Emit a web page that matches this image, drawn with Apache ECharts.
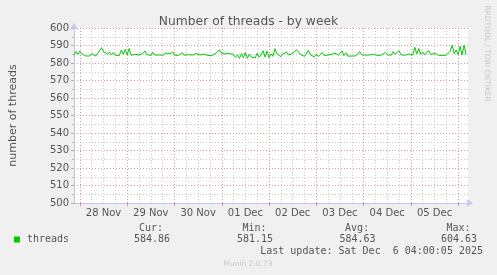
<!DOCTYPE html>
<html>
<head>
<meta charset="utf-8">
<script src="https://cdn.jsdelivr.net/npm/echarts@6/dist/echarts.min.js"></script>
<style>
html,body{margin:0;padding:0;background:#f0f0f0;}
#c{width:497px;height:275px;}
</style>
</head>
<body>
<div id="c"></div>
<script>
// ---- data ----
const startHour = 21; // hours since 27 Nov 00:00, one sample per hour
const threads = [
584.5,586.5,585,586.8,585.2,
584.2,584,584.1,584,585.3,584.2,584,585.5,584.6,
588.8,586.5,587.2,
585,586.3,584.7,586,584.5,585.6,584.3,
587.3,585,587.8,584.6,588.3,
584.4,584.3,585,584.2,584.6,584.4,585.5,
586.9,584.8,585.8,584.3,586.2,
584.5,584.3,584.6,585.5,584.4,584.2,585.7,
586.7,585.2,586.4,584.6,585.2,584.3,
584.2,585.9,584.4,584.1,584.8,584.3,584.5,
584.2,585.4,584.3,584.6,584.2,585.1,
584.5,584.3,584.8,584.2,584.4,585.6,584.6,587.5,585.4,
586,585.2,584.8,585.5,584.6,584.8,583.2,
584.7,582.6,585.3,583,586.2,582.7,585,583.4,584.4,582.9,585.6,583.2,584.6,587,583.4,586.8,583.1,585.2,583.8,588.2,585.4,584.5,583.6,585.2,
584.3,586.2,584.6,584.2,585.5,584.8,587.6,586.2,584.8,584.4,583.8,584.6,587.2,584.7,
584.2,583.5,585,583.7,584.6,586,584.2,583.8,584.6,584.1,585,584.5,585.6,584.3,585.2,
587,584.2,585.8,583.9,584.4,584,584,584,584.1,586.5,584.7,585.6,584.5,584.3,584.6,584.3,585,584.4,584.3,585.3,584.5,584.3,586,584.8,585.6,584.4,586.5,585,584.5,587,584.7,585.3,
584.4,584.3,585.1,584.3,584.6,589,585.2,588.3,585,586.3,584.6,585.2,587.2,584.9,584.3,585.6,584.6,584.4,585.1,584.3,585.4,584.5,584.4,586.8,590.3,585.3,587.4,584.8,589.5,584.6,590.2,584.9
];
const dayLabels = ['28 Nov','29 Nov','30 Nov','01 Dec','02 Dec','03 Dec','04 Dec','05 Dec'];
const firstDayHour = 24;   // 28 Nov 00:00
const statNames = ['Cur:','Min:','Avg:','Max:'];
const statValues = ['584.86','581.15','584.63','604.63'];
const seriesName = 'threads';
const lastUpdate = 'Last update: Sat Dec  6 04:00:05 2025';

// ---- derived axis positions ----
const dayStarts = [], dayNoons = [], sixHours = [];
for (let d = 0; d <= dayLabels.length; d++) dayStarts.push(firstDayHour + 24*d);
for (let d = 0; d < dayLabels.length; d++) dayNoons.push(firstDayHour + 12 + 24*d);
for (let h = firstDayHour; h <= 221; h += 6) if ((h - firstDayHour) % 24 !== 0) sixHours.push(h);
const pts = threads.map((v,i)=>[startHour+i, v]);

const red = 'rgba(225,110,110,0.75)';
const grey = 'rgba(150,150,150,0.5)';
const txt = '#555';

const chart = echarts.init(document.getElementById('c'), null, {renderer:'canvas'});
chart.setOption({
  backgroundColor:'#f0f0f0',
  animation:false,
  title:{text:'Number of threads - by week', left:'center', top:11,
    textStyle:{fontFamily:'DejaVu Sans', fontSize:12.3, fontWeight:'normal', color:txt}},
  grid:{left:67, right:29, top:28, bottom:72, show:true, backgroundColor:'#ffffff', borderWidth:0},
  xAxis:{type:'value', min:21, max:221,
    axisLine:{show:true, lineStyle:{color:'#c4c4f0', width:1}, symbol:['none','arrow'], symbolSize:[6,7], symbolOffset:[0,5]},
    axisTick:{show:true, customValues:dayStarts, length:3, lineStyle:{color:red}},
    axisLabel:{customValues:dayNoons, margin:5, fontFamily:'DejaVu Sans', fontSize:10, color:txt,
      formatter:v=>dayLabels[Math.round((v-firstDayHour-12)/24)]},
    splitLine:{show:false}},
  yAxis:{type:'value', min:500, max:600, interval:10,
    name:'number of threads', nameLocation:'middle', nameGap:55,
    nameTextStyle:{fontFamily:'DejaVu Sans', fontSize:11, color:txt},
    axisLine:{show:true, lineStyle:{color:'#c4c4f0', width:1}, symbol:['none','arrow'], symbolSize:[6,7], symbolOffset:[0,5]},
    axisTick:{show:true, length:3, lineStyle:{color:'#aaa'}},
    minorTick:{show:true, splitNumber:2, length:2, lineStyle:{color:'#bbb'}},
    axisLabel:{margin:5, fontFamily:'DejaVu Sans', fontSize:10, color:txt},
    splitLine:{show:true, lineStyle:{color:red, type:[1,2], width:1}},
    minorSplitLine:{show:true, lineStyle:{color:grey, type:[1,2], width:1}}},
  series:[
    {type:'line', data:[], z:1, silent:true,
      markLine:{silent:true, symbol:['none','none'], label:{show:false}, animation:false,
        data:[
          ...sixHours.map(h=>({xAxis:h, lineStyle:{color:grey, type:[1,2], width:1}})),
          ...dayStarts.filter(h=>h<=221).map(h=>({xAxis:h, lineStyle:{color:red, type:[1,2], width:1}}))
        ]}},
    {type:'line', name:seriesName, data:pts, z:3, showSymbol:false, symbol:'none',
      lineStyle:{color:'#00cc00', width:1}, itemStyle:{color:'#00cc00'}}
  ],
  graphic:[
    {type:'rect', shape:{x:14, y:236.5, width:6, height:6}, style:{fill:'#00cc00'}},
    {type:'text', x:27, y:239.5, style:{text:seriesName, font:'10px "DejaVu Sans Mono"', fill:txt, verticalAlign:'middle', align:'left'}},
    {type:'text', x:163, y:228, style:{text:statNames[0], font:'10px "DejaVu Sans Mono"', fill:txt, verticalAlign:'middle', align:'right'}},
    {type:'text', x:170, y:239.5, style:{text:statValues[0], font:'10px "DejaVu Sans Mono"', fill:txt, verticalAlign:'middle', align:'right'}},
    {type:'text', x:266.5, y:228, style:{text:statNames[1], font:'10px "DejaVu Sans Mono"', fill:txt, verticalAlign:'middle', align:'right'}},
    {type:'text', x:273, y:239.5, style:{text:statValues[1], font:'10px "DejaVu Sans Mono"', fill:txt, verticalAlign:'middle', align:'right'}},
    {type:'text', x:369, y:228, style:{text:statNames[2], font:'10px "DejaVu Sans Mono"', fill:txt, verticalAlign:'middle', align:'right'}},
    {type:'text', x:375.5, y:239.5, style:{text:statValues[2], font:'10px "DejaVu Sans Mono"', fill:txt, verticalAlign:'middle', align:'right'}},
    {type:'text', x:470.5, y:228, style:{text:statNames[3], font:'10px "DejaVu Sans Mono"', fill:txt, verticalAlign:'middle', align:'right'}},
    {type:'text', x:477, y:239.5, style:{text:statValues[3], font:'10px "DejaVu Sans Mono"', fill:txt, verticalAlign:'middle', align:'right'}},
    {type:'text', x:483, y:251, style:{text:lastUpdate, font:'10px "DejaVu Sans Mono"', fill:txt, verticalAlign:'middle', align:'right'}},
    {type:'text', x:248, y:264, style:{text:'Munin 2.0.73', font:'7.5px "DejaVu Sans"', fill:'#c8c8c8', verticalAlign:'middle', align:'center'}},
    {type:'text', x:487, y:53.5, rotation:-Math.PI/2, style:{text:'RRDTOOL / TOBI OETIKER', font:'7.5px "DejaVu Sans"', fill:'#c8c8c8', verticalAlign:'middle', align:'center'}}
  ]
});
</script>
</body>
</html>
